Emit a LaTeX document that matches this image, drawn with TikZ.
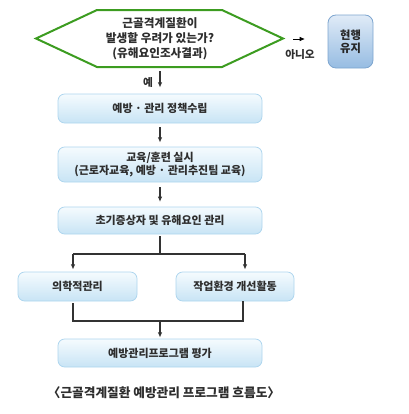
\documentclass[tikz,border=0pt]{standalone}
\usepackage{fontspec}
\setmainfont{Noto Sans CJK KR}
\usetikzlibrary{arrows.meta}

\definecolor{hexgreen}{HTML}{3C9C20}
\definecolor{boxline}{HTML}{ADD5EE}
\definecolor{boxtop}{HTML}{F5FBFE}
\definecolor{boxbot}{HTML}{C8E4F5}
\definecolor{keeptop}{HTML}{E0EBF7}
\definecolor{keepbot}{HTML}{96BCE2}
\definecolor{keepline}{HTML}{7DA5CF}
\definecolor{txt}{HTML}{2E2E2E}

\tikzset{
  stepbox/.style={draw=boxline, line width=0.6pt, rounded corners=5pt, top color=boxtop, bottom color=boxbot,
    text=txt, font=\bfseries\fontsize{8.25}{9.75}\selectfont, align=center, inner sep=0pt, minimum width=153pt},
  keepbox/.style={draw=keepline, line width=0.6pt, rounded corners=6pt, top color=keeptop, bottom color=keepbot,
    text=black!85, font=\bfseries\fontsize{8.5}{9.5}\selectfont, align=center, inner sep=0pt,
    minimum width=33.75pt, minimum height=39.75pt},
  asktext/.style={text=txt, font=\bfseries\fontsize{8.75}{11.25}\selectfont, align=center, inner sep=0pt, minimum height=42.75pt},
  lbl/.style={text=txt, font=\bfseries\fontsize{8}{9}\selectfont, inner sep=0pt},
  link/.style={draw=black!80, line width=0.9pt},
  arr/.style={link, -{Latex[length=4pt,width=3.5pt]}}
}

\begin{document}
\begin{tikzpicture}[x=0.75pt,y=0.75pt,yscale=-1,xscale=1]
  \useasboundingbox (0,0) rectangle (408,414);

  % decision
  \draw [hexgreen, line width=1.5pt, line join=miter] (36,38.5) -- (97,10) -- (222,10) -- (283,38.5) -- (222,67) -- (97,67) -- cycle;
  \node [asktext] (ask) at (160,38.5) {근골격계질환이\\발생할 우려가 있는가?\\(유해요인조사결과)};
  \coordinate (tip) at (283,39);

  \node [keepbox] (keep) at (350.5,41.5) {현행\\유지};
  \node [lbl] (no) at (300,55) {아니오};
  \node [lbl] (yes) at (148,82) {예};

  % steps
  \node [stepbox, minimum height=21.75pt] (policy) at (160,108.5) {예방 · 관리 정책수립};
  \node [stepbox, minimum height=26.25pt] (edu) at (160,164.5) {교육/훈련 실시\\(근로자교육, 예방 · 관리추진팀 교육)};
  \node [stepbox, minimum height=20.25pt] (early) at (160,220.5) {초기증상자 및 유해요인 관리};
  \node [stepbox, minimum width=89.25pt, minimum height=21.75pt] (med) at (77.5,286.5) {의학적관리};
  \node [stepbox, minimum width=88.5pt, minimum height=21.75pt] (env) at (235,286.5) {작업환경 개선활동};
  \node [stepbox, minimum height=21pt] (eval) at (160,353) {예방관리프로그램 평가};

  % split and merge points
  \coordinate (sl) at (73,254);
  \coordinate (sr) at (245,254);
  \coordinate (ml) at (73,321);
  \coordinate (mr) at (243,321);

  % connectors
  \draw [arr, draw=black, line width=0.6pt, shorten <=7.5pt, shorten >=17pt] (tip) -- (tip -| keep.west);
  \draw [arr, shorten <=3pt, shorten >=4.5pt] (ask.south) -- (policy.north);
  \draw [arr, shorten <=3pt, shorten >=3pt] (policy.south) -- (edu.north);
  \draw [arr, shorten <=3.5pt, shorten >=3.5pt] (edu.south) -- (early.north);
  \draw [link, shorten <=1.5pt] (early.south) -- (early.south |- sl);
  \draw [link] (sl) -- (sr);
  \draw [arr, shorten >=1.5pt] (sl) -- (sl |- med.north);
  \draw [arr, shorten >=1.5pt] (sr) -- (sr |- env.north);
  \draw [link, shorten <=1.5pt] (ml |- med.south) -- (ml) -- (mr) -- (mr |- env.south);
  \draw [arr, shorten >=0.75pt] (eval.north |- ml) -- (eval.north);

  % caption
  \node [lbl, font=\bfseries\fontsize{9.5}{10}\selectfont] (cap) at (164,393) {〈근골격계질환 예방관리 프로그램 흐름도〉};
\end{tikzpicture}
\end{document}
